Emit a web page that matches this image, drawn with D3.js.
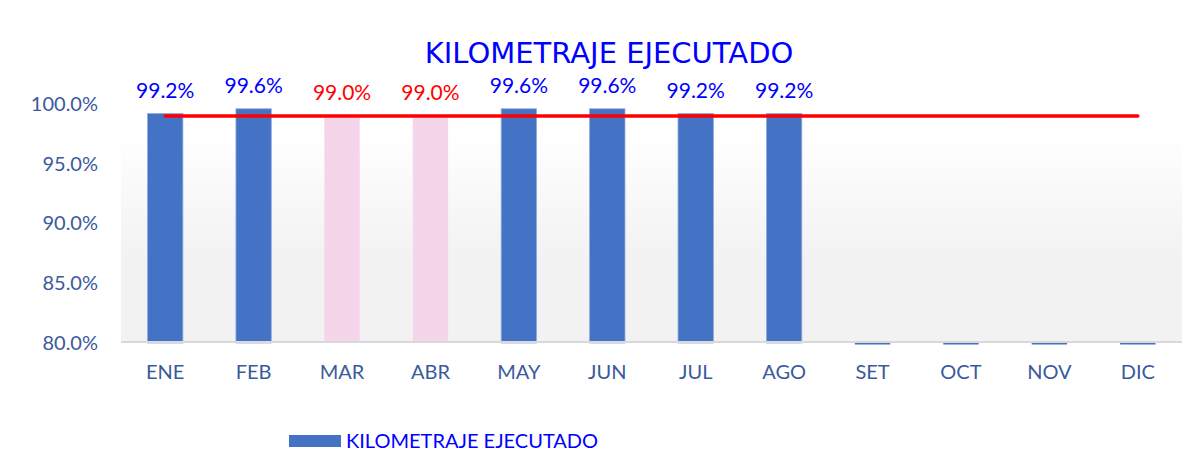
<!DOCTYPE html>
<html lang="es">
<head>
<meta charset="utf-8">
<title>Kilometraje ejecutado</title>
<script src="https://cdn.jsdelivr.net/npm/d3@7"></script>
<style>
  body { margin: 0; background: #fff; }
  svg { display: block; }
</style>
</head>
<body>
<div id="chart"></div>
<script>
// data
const months = ["ENE", "FEB", "MAR", "ABR", "MAY", "JUN", "JUL", "AGO", "SET", "OCT", "NOV", "DIC"];
const values = [99.2, 99.6, 99.0, 99.0, 99.6, 99.6, 99.2, 99.2, 0, 0, 0, 0];
const target = [99.0, 99.0, 99.0, 99.0, 99.0, 99.0, 99.0, 99.0, 99.0, 99.0, 99.0, 99.0];
const yTicks = [80, 85, 90, 95, 100];
const title = "KILOMETRAJE EJECUTADO";
const seriesName = "KILOMETRAJE EJECUTADO";

const width = 1197, height = 457;
const plot = { left: 121, right: 1182, top: 133, bottom: 343 };
const font = "Lato, 'Liberation Sans', sans-serif";
const axisColor = "#3a5a9c";
const barColor = "#4472c4";
const lowColor = "#f5d5e9";

const svg = d3.select("#chart").append("svg")
  .attr("width", width)
  .attr("height", height);

// plot area background (white fading to light grey)
const grad = svg.append("defs").append("linearGradient")
  .attr("id", "bg").attr("x1", 0).attr("y1", 0).attr("x2", 0).attr("y2", 1);
grad.append("stop").attr("offset", "0%").attr("stop-color", "#ffffff");
grad.append("stop").attr("offset", "60%").attr("stop-color", "#f2f2f2");
grad.append("stop").attr("offset", "100%").attr("stop-color", "#f2f2f2");

svg.append("rect")
  .attr("x", plot.left).attr("y", plot.top)
  .attr("width", plot.right - plot.left)
  .attr("height", plot.bottom - plot.top)
  .attr("fill", "url(#bg)");

const x = d3.scaleBand()
  .domain(months)
  .range([plot.left, plot.right])
  .paddingInner(0.6)
  .paddingOuter(0.3);

const y = d3.scaleLinear()
  .domain([80, 100])
  .range([343, 104]);

// y axis labels
const yAxis = svg.append("g")
  .attr("transform", "translate(98,0)")
  .call(d3.axisLeft(y).tickValues(yTicks).tickSize(0).tickPadding(0)
    .tickFormat(d => d3.format(".1f")(d) + "%"));
yAxis.select(".domain").remove();
yAxis.selectAll("text")
  .attr("font-family", font)
  .attr("font-size", 20)
  .attr("fill", axisColor);

// x axis labels
const xAxis = svg.append("g")
  .attr("transform", "translate(0,343)")
  .call(d3.axisBottom(x).tickSize(0).tickPadding(22));
xAxis.select(".domain").remove();
xAxis.selectAll("text")
  .attr("font-family", font)
  .attr("font-size", 20)
  .attr("fill", axisColor);

// bars
svg.selectAll(".bar")
  .data(values)
  .enter().append("rect")
  .attr("class", "bar")
  .attr("x", (d, i) => x(months[i]))
  .attr("width", x.bandwidth())
  .attr("y", d => d > 80 ? y(d) : y(80))
  .attr("height", d => d > 80 ? y(80) - y(d) : 1.5)
  .attr("fill", (d, i) => d > 80 && d <= target[i] ? lowColor : barColor)
  .attr("stroke", (d, i) => d > 80 && d <= target[i] ? "none" : "#8fabdc")
  .attr("stroke-width", d => d > 80 ? 0.8 : 0);

// horizontal axis line
svg.append("line")
  .attr("x1", plot.left).attr("x2", plot.right)
  .attr("y1", 342).attr("y2", 342)
  .attr("stroke", "#d9d9d9").attr("stroke-width", 2);

// target line
const line = d3.line()
  .x((d, i) => x(months[i]) + x.bandwidth() / 2)
  .y(d => y(d));
svg.append("path")
  .datum(target)
  .attr("d", line)
  .attr("fill", "none")
  .attr("stroke", "#ff0000")
  .attr("stroke-width", 3.5)
  .attr("stroke-linecap", "round");

// data labels
svg.selectAll(".lbl")
  .data(values)
  .enter().filter(d => d > 80).append("text")
  .attr("class", "lbl")
  .attr("x", (d, i) => x(months[i]) + x.bandwidth() / 2)
  .attr("y", d => y(d) - 16)
  .attr("text-anchor", "middle")
  .attr("font-family", font)
  .attr("font-size", 21)
  .attr("fill", (d, i) => d <= target[i] ? "#ff0000" : "#0000ff")
  .text(d => d3.format(".1f")(d) + "%");

// title
svg.append("text")
  .attr("x", 609).attr("y", 63)
  .attr("text-anchor", "middle")
  .attr("font-family", "'DejaVu Sans', sans-serif")
  .attr("font-size", 29)
  .attr("fill", "#0000ff")
  .text(title);

// legend
svg.append("rect")
  .attr("x", 289).attr("y", 435)
  .attr("width", 52).attr("height", 12)
  .attr("fill", barColor);
svg.append("text")
  .attr("x", 346).attr("y", 448)
  .attr("font-family", font)
  .attr("font-size", 20)
  .attr("fill", "#0000ff")
  .text(seriesName);
</script>
</body>
</html>
